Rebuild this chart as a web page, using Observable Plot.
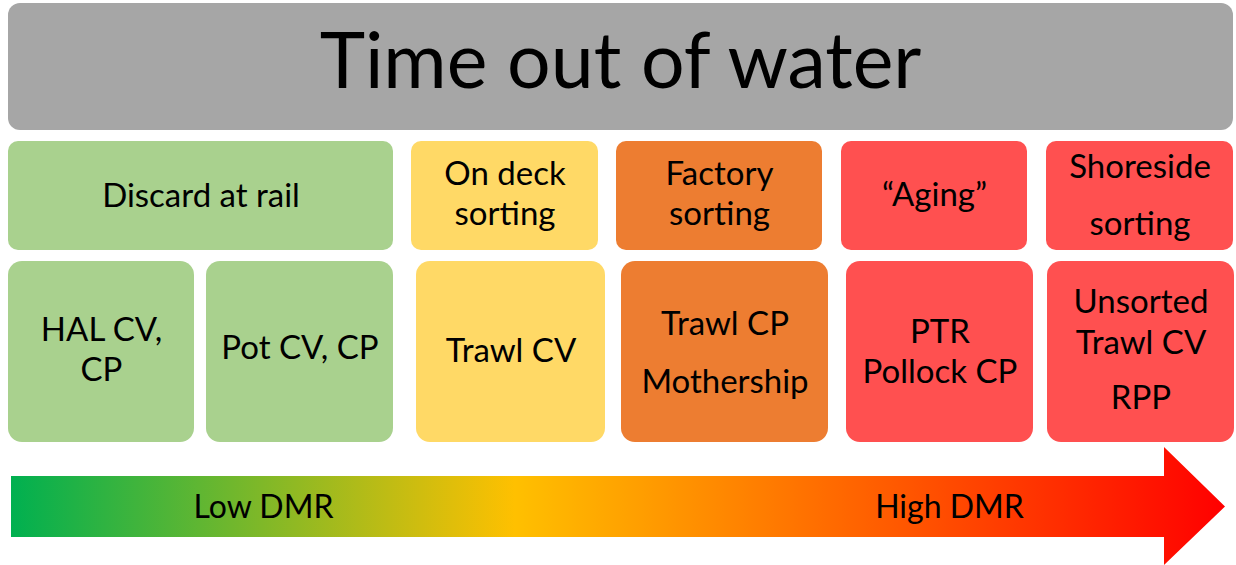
<!DOCTYPE html>
<html>
<head>
<meta charset="utf-8">
<script src="https://cdn.jsdelivr.net/npm/d3@7"></script>
<script src="https://cdn.jsdelivr.net/npm/@observablehq/plot@0.6"></script>
<style>
  html, body { margin: 0; padding: 0; background: #ffffff; }
  #chart svg { display: block; }
</style>
</head>
<body>
<div id="chart"></div>
<script>
// ---- data ----
const title = "Time out of water";

// stage header boxes (top row)
const stageLabels = [["Discard at rail"], ["On deck", "sorting"], ["Factory", "sorting"], ["“Aging”"], ["Shoreside", "sorting"]];
const stageX1 = [8, 411, 616, 841, 1046];
const stageX2 = [393, 598, 822, 1027, 1233];
const stageLineY = [[196], [174, 214], [174, 214], [195], [167, 224]];
const stageColor = ["#a9d18e", "#ffd966", "#ed7d31", "#ff5050", "#ff5050"];

// sector boxes (second row)
const gearLabels = [["HAL CV,", "CP"], ["Pot CV, CP"], ["Trawl CV"], ["Trawl CP", "Mothership"], ["PTR", "Pollock CP"], ["Unsorted", "Trawl CV", "RPP"]];
const gearX1 = [8, 206, 416, 621, 846, 1047];
const gearX2 = [194, 393, 605, 828, 1033, 1234];
const gearLineY = [[330, 370], [348], [351], [324, 382], [332, 372], [302, 343, 398]];
const gearColor = ["#a9d18e", "#a9d18e", "#ffd966", "#ed7d31", "#ff5050", "#ff5050"];

// DMR arrow
const arrowX = [11, 1164, 1164, 1225];
const arrowTop = [476, 476, 447, 506.5];
const arrowBottom = [537, 537, 565, 506.5];
const arrowLabels = ["Low DMR", "High DMR"];
const arrowLabelX = [263, 949];
const gradientStops = [[0, "#00b050"], [0.415, "#ffc000"], [1, "#ff0000"]];

// ---- build tables ----
const stageBoxes = stageLabels.map((l, i) => ({x1: stageX1[i], x2: stageX2[i], y1: 141, y2: 250, fill: stageColor[i]}));
const stageText = stageLabels.flatMap((lines, i) => lines.map((t, j) => ({x: (stageX1[i] + stageX2[i]) / 2, y: stageLineY[i][j], text: t})));
const gearBoxes = gearLabels.map((l, i) => ({x1: gearX1[i], x2: gearX2[i], y1: 261, y2: 442, fill: gearColor[i]}));
const gearText = gearLabels.flatMap((lines, i) => lines.map((t, j) => ({x: (gearX1[i] + gearX2[i]) / 2, y: gearLineY[i][j], text: t})));
const arrow = arrowX.map((x, i) => ({x, y1: arrowTop[i], y2: arrowBottom[i]}));
const arrowText = arrowLabels.map((t, i) => ({x: arrowLabelX[i], y: 507, text: t}));

const plot = Plot.plot({
  width: 1236,
  height: 565,
  margin: 0,
  x: {domain: [0, 1236], range: [0, 1236], axis: null},
  y: {domain: [0, 565], range: [0, 565], axis: null},
  style: {background: "#ffffff", fontFamily: "Lato, 'Open Sans', sans-serif"},
  marks: [
    Plot.rect([{x1: 8, x2: 1233, y1: 3, y2: 130}], {x1: "x1", x2: "x2", y1: "y1", y2: "y2", fill: "#a6a6a6", rx: 12}),
    Plot.text([{x: 620, y: 63, text: title}], {x: "x", y: "y", text: "text", fontSize: 77, fill: "#000000", lineAnchor: "middle"}),
    Plot.rect(stageBoxes, {x1: "x1", x2: "x2", y1: "y1", y2: "y2", fill: "fill", rx: 10}),
    Plot.text(stageText, {x: "x", y: "y", text: "text", fontSize: 33, fill: "#000000", lineAnchor: "middle"}),
    Plot.rect(gearBoxes, {x1: "x1", x2: "x2", y1: "y1", y2: "y2", fill: "fill", rx: 14}),
    Plot.text(gearText, {x: "x", y: "y", text: "text", fontSize: 33, fill: "#000000", lineAnchor: "middle"}),
    Plot.areaY(arrow, {x: "x", y1: "y1", y2: "y2", fill: "url(#dmrGradient)", curve: "linear"}),
    Plot.text(arrowText, {x: "x", y: "y", text: "text", fontSize: 32, fill: "#000000", lineAnchor: "middle"})
  ]
});

// gradient definition for the arrow
const ns = "http://www.w3.org/2000/svg";
const defs = document.createElementNS(ns, "defs");
const grad = document.createElementNS(ns, "linearGradient");
grad.setAttribute("id", "dmrGradient");
grad.setAttribute("gradientUnits", "userSpaceOnUse");
grad.setAttribute("x1", String(arrowX[0]));
grad.setAttribute("x2", String(arrowX[arrowX.length - 1]));
grad.setAttribute("y1", "0");
grad.setAttribute("y2", "0");
for (const [o, c] of gradientStops) {
  const s = document.createElementNS(ns, "stop");
  s.setAttribute("offset", String(o));
  s.setAttribute("stop-color", c);
  grad.appendChild(s);
}
defs.appendChild(grad);
plot.insertBefore(defs, plot.firstChild);

document.getElementById("chart").appendChild(plot);
</script>
</body>
</html>
